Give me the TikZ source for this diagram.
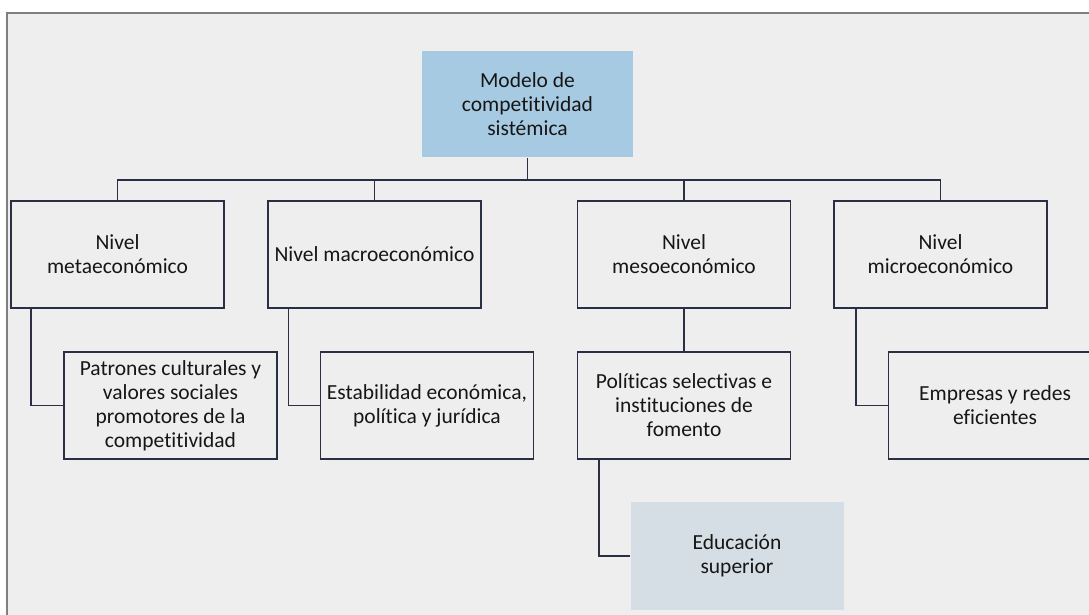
\documentclass[tikz,border=0pt]{standalone}
\usepackage{fontspec}
\setmainfont[Ligatures={NoCommon}]{Carlito}
\definecolor{paper}{HTML}{EEEEEF}
\definecolor{framegray}{HTML}{7F7F7F}
\definecolor{ink}{HTML}{2B2E45}
\definecolor{topfill}{HTML}{A7CAE3}
\definecolor{edufill}{HTML}{D4DEE4}
\definecolor{txt}{HTML}{161616}
\tikzset{
  box/.style={draw=ink, line width=1.5pt, minimum width=213pt, minimum height=107pt,
    inner sep=0pt, align=center, text=txt, font=\fontsize{21.5}{24}\selectfont},
  link/.style={draw=ink, line width=1.5pt},
}
\begin{document}
\begin{tikzpicture}[x=1pt, y=-1pt]
  % canvas and frame
  \useasboundingbox (0,0) rectangle (1089,615);
  \fill[white] (0,0) rectangle (1089,615);
  \fill[paper] (7,13) rectangle (1089,615);
  \draw[framegray, line width=2.2pt] (7,615) -- (7,13) -- (1089,13);

  % boxes
  \node[box, draw=none, fill=topfill, minimum width=211pt, minimum height=106pt] (top) at (527.5,104)
    {Modelo de\\competitividad\\sistémica};

  \node[box] (meta)  at (117.5,254.5) {Nivel\\metaeconómico};
  \node[box] (macro) at (374.5,254.5) {Nivel macroeconómico};
  \node[box] (meso)  at (684,254.5)   {Nivel\\mesoeconómico};
  \node[box] (micro) at (940.5,254.5) {Nivel\\microeconómico};

  \node[box] (patrones)  at (170.5,405.5) {Patrones culturales y\\valores sociales\\promotores de la\\competitividad};
  \node[box] (estab)     at (427,405.5)   {Estabilidad económica,\\política y jurídica};
  \node[box] (politicas) at (684,405.5)   {Políticas selectivas e\\instituciones de\\fomento};
  \node[box] (empresas)  at (995,405.5)   {Empresas y redes\\eficientes};

  \node[box, draw=none, fill=edufill, minimum height=108pt] (educ) at (737,556) {Educación\\superior};

  % tree connectors
  \coordinate (bus) at (527.5,180);
  \draw[link] (top.south) -- (bus);
  \draw[link] (meta.north) |- (micro.north |- bus) -- (micro.north);
  \draw[link] (macro.north) -- (macro.north |- bus);
  \draw[link] (meso.north) -- (meso.north |- bus);

  \draw[link] ([xshift=20.5pt]meta.south west) |- (patrones.west);
  \draw[link] ([xshift=21pt]macro.south west) |- (estab.west);
  \draw[link] (meso.south) -- (politicas.north);
  \draw[link] ([xshift=22.5pt]micro.south west) |- (empresas.west);
  \draw[link] ([xshift=22pt]politicas.south west) |- (educ.west);
\end{tikzpicture}
\end{document}
